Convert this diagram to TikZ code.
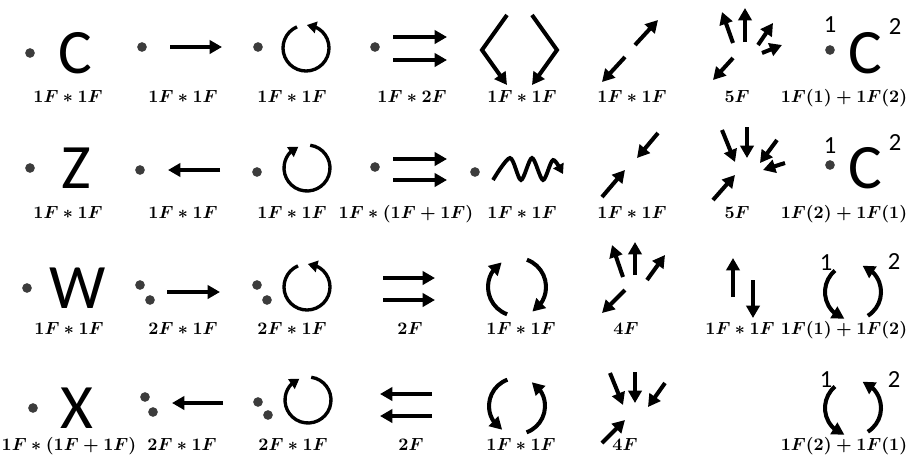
\documentclass[tikz,border=0pt]{standalone}
\usepackage[no-math]{fontspec}
\setmainfont{Carlito}
\usetikzlibrary{arrows.meta,bending}
\definecolor{mydot}{RGB}{60,60,60}

\begin{document}
\begin{tikzpicture}[x=0.02cm, y=-0.02cm,
  arr/.style={line width=2.3pt, -{Triangle[length=7pt,width=7.5pt]}},
  spin/.style={line width=1.9pt, -{Triangle[length=5.5pt,width=6.5pt]}},
  dot/.style={circle, fill=mydot, inner sep=0pt, minimum size=5.5pt},
  big/.style={inner sep=0pt, font=\fontsize{36}{40}\selectfont},
  idx/.style={inner sep=0pt, font=\fontsize{14}{16}\selectfont},
  lbl/.style={inner sep=0pt, anchor=base, font=\fontsize{10}{12}\selectfont\boldmath}]
  \useasboundingbox (0,0) rectangle (910,464);

  % Row 1
  \node[dot] (d11) at (30,53) {};
  \node[big] (t11) at (75,53) {C};
  \node[dot] (d12) at (142,47) {};
  \draw[arr] (170,47) -- (222,47);
  \node[dot] (d13) at (258,47) {};
  \draw[spin] (306,48) ++(-113:23) arc[start angle=-113, end angle=-448, radius=23];
  \node[dot] (d14) at (375,47) {};
  \draw[arr] (393,37) -- (447,37);
  \draw[arr] (393,60) -- (447,60);
  \draw[arr] (507,15) -- (482,50) -- (507,85);
  \draw[arr] (532,15) -- (557,50) -- (532,85);
  \draw[arr] (635,45) -- (658,20);
  \draw[arr] (625,57) -- (602,82);
  \foreach \s/\e in {{733,43}/{722,12}, {745,42}/{745,8}, {758,45}/{773,23},
                     {762,53}/{782,45}, {733,58}/{713,80}}
    \draw[arr] (\s) -- (\e);
  \node[idx] (n11) at (830,25) {1};
  \node[dot] (d18) at (830,50) {};
  \node[big] (t18) at (865,53) {C};
  \node[idx] (n12) at (895,27) {2};

  % Row 2
  \node[dot] (d21) at (30,168) {};
  \node[big] (t21) at (76,168) {Z};
  \node[dot] (d22) at (140,170) {};
  \draw[arr] (220,170) -- (168,170);
  \node[dot] (d23) at (257,172) {};
  \draw[spin] (307,168) ++(-82:23) arc[start angle=-82, end angle=248, radius=23];
  \node[dot] (d24) at (375,167) {};
  \draw[arr] (393,159) -- (447,159);
  \draw[arr] (393,180) -- (447,180);
  \node[dot] (d25) at (475,172) {};
  \draw[spin, line width=2.2pt] plot[smooth] coordinates
    {(493,180) (510,158) (521,180) (532,158) (543,180) (553,160) (563,174)};
  \draw[arr] (658,133) -- (637,158);
  \draw[arr] (602,197) -- (625,170);
  \foreach \s/\e in {{722,130}/{735,162}, {747,127}/{747,158}, {777,140}/{760,163},
                     {785,163}/{763,170}, {713,200}/{735,175}}
    \draw[arr] (\s) -- (\e);
  \node[idx] (n21) at (830,146) {1};
  \node[dot] (d28) at (830,165) {};
  \node[big] (t28) at (865,168) {C};
  \node[idx] (n22) at (895,143) {2};

  % Row 3
  \node[dot] (d31) at (27,288) {};
  \node[big] (t31) at (78,288) {W};
  \node[dot] (d32a) at (140,285) {};
  \node[dot] (d32b) at (150,300) {};
  \draw[arr] (167,292) -- (220,292);
  \node[dot] (d33a) at (257,285) {};
  \node[dot] (d33b) at (267,300) {};
  \draw[spin] (307,287) ++(-113:23) arc[start angle=-113, end angle=-448, radius=23];
  \draw[arr] (383,278) -- (435,278);
  \draw[arr] (383,300) -- (435,300);
  \draw[arr] (517,287) ++(-250:29) arc[start angle=-250, end angle=-122, radius=29];
  \draw[arr] (517,287) ++(-70:29) arc[start angle=-70, end angle=58, radius=29];
  \foreach \s/\e in {{623,277}/{612,245}, {635,275}/{635,242}, {647,280}/{665,255},
                     {625,290}/{602,313}}
    \draw[arr] (\s) -- (\e);
  \draw[arr] (733,297) -- (733,258);
  \draw[arr] (753,280) -- (753,318);
  \node[idx] (n31) at (826,263) {1};
  \node[idx] (n32) at (894,262) {2};
  \draw[arr] (853,292) ++(-130:28) arc[start angle=-130, end angle=-252, radius=28];
  \draw[arr] (853,292) ++(58:28) arc[start angle=58, end angle=-70, radius=28];

  % Row 4
  \node[dot] (d41) at (33,408) {};
  \node[big] (t41) at (77,408) {X};
  \node[dot] (d42a) at (145,397) {};
  \node[dot] (d42b) at (153,412) {};
  \draw[arr] (223,403) -- (172,403);
  \node[dot] (d43a) at (258,402) {};
  \node[dot] (d43b) at (268,415) {};
  \draw[spin] (308,400) ++(-82:23) arc[start angle=-82, end angle=248, radius=23];
  \draw[arr] (432,394) -- (380,394);
  \draw[arr] (432,416) -- (380,416);
  \draw[arr] (517,406) ++(-110:28) arc[start angle=-110, end angle=-238, radius=28];
  \draw[arr] (517,406) ++(70:28) arc[start angle=70, end angle=-58, radius=28];
  \foreach \s/\e in {{610,373}/{623,405}, {635,372}/{635,403}, {665,383}/{648,407},
                     {602,443}/{625,420}}
    \draw[arr] (\s) -- (\e);
  \node[idx] (n41) at (826,380) {1};
  \node[idx] (n42) at (894,380) {2};
  \draw[arr] (853,408) ++(-130:28) arc[start angle=-130, end angle=-252, radius=28];
  \draw[arr] (853,408) ++(58:28) arc[start angle=58, end angle=-70, radius=28];

  % Labels
  \foreach \n/\x/\t in {1/68/{1F*1F}, 2/183/{1F*1F}, 3/292/{1F*1F}, 4/412/{1F*2F},
                        5/522/{1F*1F}, 6/632/{1F*1F}, 7/737/{5F}, 8/844/{1F(1)+1F(2)}}
    \node[lbl] (la\n) at (\x,102) {$\t$};
  \foreach \n/\x/\t in {1/68/{1F*1F}, 2/183/{1F*1F}, 3/292/{1F*1F}, 4/406/{1F*(1F+1F)},
                        5/522/{1F*1F}, 6/632/{1F*1F}, 7/737/{5F}, 8/844/{1F(2)+1F(1)}}
    \node[lbl] (lb\n) at (\x,218) {$\t$};
  \foreach \n/\x/\t in {1/69/{1F*1F}, 2/183/{2F*1F}, 3/292/{2F*1F}, 4/410/{2F},
                        5/521/{1F*1F}, 6/626/{4F}, 7/740/{1F*1F}, 8/844/{1F(1)+1F(2)}}
    \node[lbl] (lc\n) at (\x,334) {$\t$};
  \foreach \n/\x/\t in {1/69/{1F*(1F+1F)}, 2/182/{2F*1F}, 3/293/{2F*1F}, 4/411/{2F},
                        5/521/{1F*1F}, 6/625/{4F}, 8/844/{1F(2)+1F(1)}}
    \node[lbl] (ld\n) at (\x,450) {$\t$};
\end{tikzpicture}
\end{document}
